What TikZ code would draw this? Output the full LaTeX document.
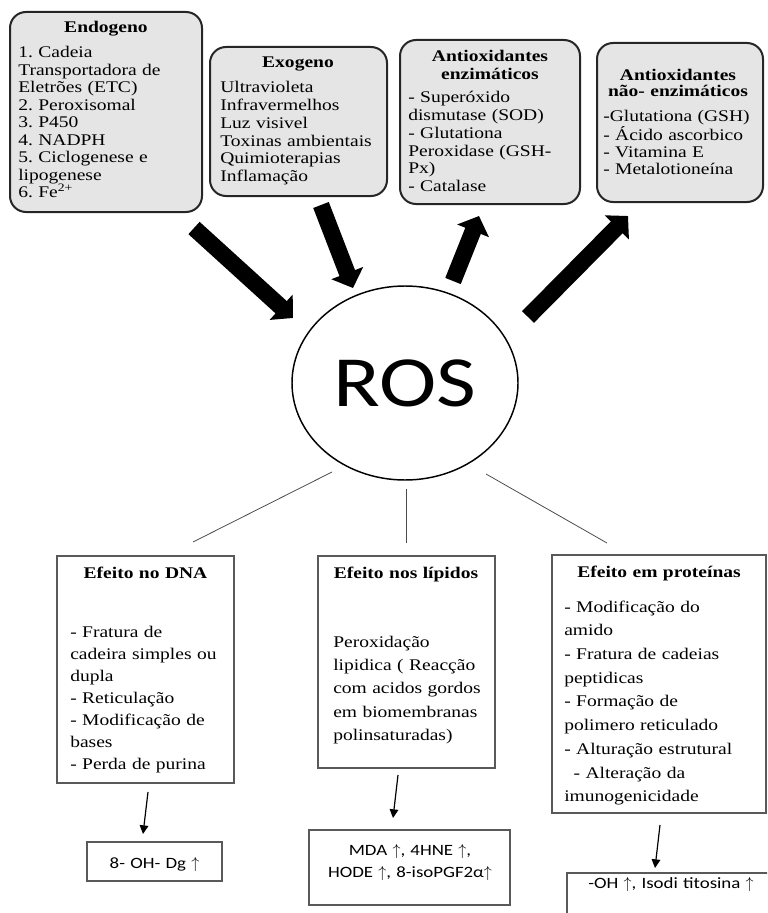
\documentclass[tikz,border=0pt]{standalone}
\usepackage{fontspec}
\setmainfont{Liberation Serif}[FakeStretch=1.2]
\newfontfamily\calib{Carlito}[FakeStretch=1.2]
\usepackage{tikz}
\usetikzlibrary{shapes}
\usetikzlibrary{arrows.meta}
\usetikzlibrary{fit}
\frenchspacing

\tikzset{
  srcbox/.style={draw=black!85, line width=1.5pt, rounded corners=12pt, fill=black!10, inner sep=0pt},
  effbox/.style={draw=black!65, line width=0.8pt, inner sep=0pt},
  bigarrow/.style={line width=12.5pt, -{Triangle[length=12pt,width=25pt]}},
  smallarrow/.style={line width=0.9pt, -{Triangle[length=6.5pt,width=6.5pt]}},
  branch/.style={draw=black!70, line width=0.6pt},
  btitle/.style={anchor=base, inner sep=0pt, text width=170pt, align=center},
  btext/.style={anchor=base west, inner sep=0pt, text width=170pt, align=left},
  rtext/.style={anchor=base, inner sep=0pt, text width=170pt, align=center},
}

\begin{document}
\begin{tikzpicture}[x=0.75pt,y=0.75pt,yscale=-1,xscale=1]
\useasboundingbox (0,0) rectangle (767,913);
\clip (0,0) rectangle (767,913);

%Shape: sources and antioxidants
\node[srcbox, fit={(10,12) (202,212)}] (endo) {};
\node[srcbox, fit={(210,47) (387,196)}] (exo) {};
\node[srcbox, fit={(400,40) (580,204)}] (enz) {};
\node[srcbox, fit={(597,43) (763,202)}] (nenz) {};

%Shape: ROS
\node[ellipse, draw, line width=1.1pt, minimum width=169.5pt, minimum height=145.5pt, inner sep=0pt,
  font=\calib\fontsize{54}{54}\selectfont] (ros) at (405,383) {ROS};

%Shape: effects
\node[effbox, fit={(57,556) (234,783)}] (dna) {};
\node[effbox, fit={(318,556) (495,768)}] (lip) {};
\node[effbox, fit={(552,555) (766,813)}] (prot) {};
\node[effbox, fit={(87,842) (222,881)}] (dnares) {};
\node[effbox, fit={(309,830) (510,905)}] (lipres) {};
\node[effbox, fit={(567,873) (790,935)}] (protres) {};

%Big arrows
\coordinate (endo-out) at (194,228);
\coordinate (ros-in1) at (293,318);
\coordinate (exo-out) at (321,205);
\coordinate (ros-in2) at (353,288);
\coordinate (ros-out1) at (453,281);
\coordinate (enz-in) at (479,216);
\coordinate (ros-out2) at (528,317);
\coordinate (nenz-in) at (628,216);
\draw[bigarrow] (endo-out) -- (ros-in1);
\draw[bigarrow] (exo-out) -- (ros-in2);
\draw[bigarrow] (ros-out1) -- (enz-in);
\draw[bigarrow] (ros-out2) -- (nenz-in);

%Branches
\coordinate (ros-b1) at (332,472);
\coordinate (ros-b2) at (406,489);
\coordinate (ros-b3) at (486,474);
\coordinate (dna-top) at (193,542);
\coordinate (lip-top) at (406,543);
\coordinate (prot-top) at (607,543);
\draw[branch] (ros-b1) -- (dna-top);
\draw[branch] (ros-b2) -- (lip-top);
\draw[branch] (ros-b3) -- (prot-top);

%Small arrows
\coordinate (dna-out) at (148,792);
\coordinate (dnares-in) at (143,834);
\coordinate (lip-out) at (398,775);
\coordinate (lipres-in) at (393,818);
\coordinate (prot-out) at (660,825);
\coordinate (protres-in) at (655,868);
\draw[smallarrow] (dna-out) -- (dnares-in);
\draw[smallarrow] (lip-out) -- (lipres-in);
\draw[smallarrow] (prot-out) -- (protres-in);

% Text Node
\node[btitle, font=\bfseries\fontsize{12.2}{13.5}\selectfont] (endo-title) at (106,33) {Endogeno};
\node[btext, font=\fontsize{12.2}{13.1}\selectfont] (endo-list) at (18,58)
  {1. Cadeia\\Transportadora de\\Eletrões (ETC)\\2. Peroxisomal\\3. P450\\4. NADPH\\5. Ciclogenese e\\lipogenese\\6. Fe\textsuperscript{2+}};
% Text Node
\node[btitle, font=\bfseries\fontsize{12.2}{13.5}\selectfont] (exo-title) at (298,68) {Exogeno};
\node[btext, font=\fontsize{12.2}{13.3}\selectfont] (exo-list) at (220,93)
  {Ultravioleta\\Infravermelhos\\Luz visivel\\Toxinas ambientais\\Quimioterapias\\Inflamação};
% Text Node
\node[btitle, font=\bfseries\fontsize{12.2}{13.5}\selectfont] (enz-title) at (490,62) {Antioxidantes\\enzimáticos};
\node[btext, font=\fontsize{12.2}{13.3}\selectfont] (enz-list) at (408,103)
  {- Superóxido\\dismutase (SOD)\\- Glutationa\\Peroxidase (GSH-\\Px)\\- Catalase};
% Text Node
\node[btitle, font=\bfseries\fontsize{12.2}{12}\selectfont] (nenz-title) at (678,81) {Antioxidantes\\não- enzimáticos};
\node[btext, font=\fontsize{12.2}{12.75}\selectfont] (nenz-list) at (603,122)
  {-Glutationa (GSH)\\- Ácido ascorbico\\- Vitamina E\\- Metalotioneína};

% Text Node
\node[btitle, font=\bfseries\fontsize{12.2}{13.5}\selectfont] (dna-title) at (145.5,578) {Efeito no DNA};
\node[btext, font=\fontsize{12.2}{16.5}\selectfont] (dna-list) at (70,637)
  {- Fratura de\\cadeira simples ou\\dupla\\- Reticulação\\- Modificação de\\bases\\- Perda de purina};
% Text Node
\node[btitle, font=\bfseries\fontsize{12.2}{13.5}\selectfont] (lip-title) at (406,578) {Efeito nos lípidos};
\node[btext, font=\fontsize{12.2}{17.5}\selectfont] (lip-list) at (333,647)
  {Peroxidação\\lipidica ( Reacção\\com acidos gordos\\em biomembranas\\polinsaturadas)};
% Text Node
\node[btitle, font=\bfseries\fontsize{12.2}{13.5}\selectfont] (prot-title) at (659,577) {Efeito em proteínas};
\node[btext, font=\fontsize{12.2}{17.8}\selectfont] (prot-list) at (564,612)
  {- Modificação do\\amido\\- Fratura de cadeias\\peptidicas\\- Formação de\\polimero reticulado\\- Alturação estrutural\\\hspace*{7pt}- Alteração da\\imunogenicidade};

% Text Node
\node[rtext, font=\calib\fontsize{11.8}{16.5}\selectfont] (dnares-text) at (154.5,868) {8- OH- Dg $\uparrow$};
\node[rtext, font=\calib\fontsize{11.8}{16.5}\selectfont] (lipres-text) at (410,855)
  {MDA $\uparrow$, 4HNE $\uparrow$,\\HODE $\uparrow$, 8-isoPGF2α$\uparrow$};
\node[rtext, font=\calib\fontsize{11.8}{16.5}\selectfont] (protres-text) at (671,888) {-OH $\uparrow$, Isodi titosina $\uparrow$};

\end{tikzpicture}
\end{document}
